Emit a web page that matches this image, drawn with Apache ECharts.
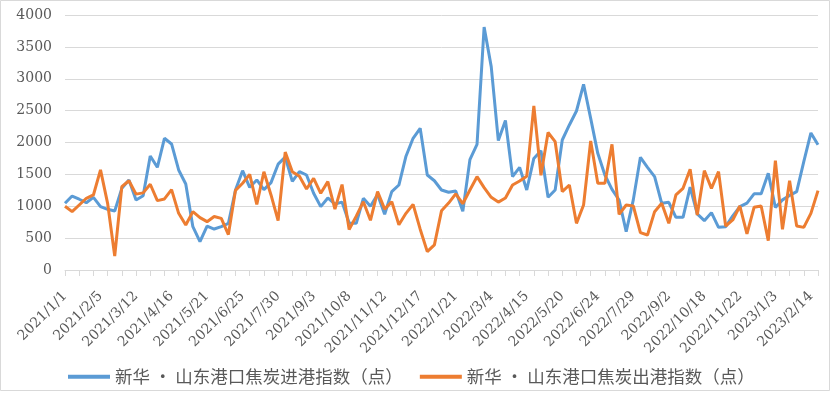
<!DOCTYPE html>
<html>
<head>
<meta charset="utf-8">
<script src="https://cdn.jsdelivr.net/npm/echarts@6/dist/echarts.min.js"></script>
<style>html,body{margin:0;padding:0;background:#fff;}#c{width:832px;height:393px;}</style>
</head>
<body>
<div id="c"></div>
<script>
var dates = [
'2021/1/1','2021/1/8','2021/1/15','2021/1/22','2021/1/29','2021/2/5','2021/2/12','2021/2/19','2021/2/26','2021/3/5',
'2021/3/12','2021/3/19','2021/3/26','2021/4/2','2021/4/9','2021/4/16','2021/4/23','2021/4/30','2021/5/7','2021/5/14',
'2021/5/21','2021/5/28','2021/6/4','2021/6/11','2021/6/18','2021/6/25','2021/7/2','2021/7/9','2021/7/16','2021/7/23',
'2021/7/30','2021/8/6','2021/8/13','2021/8/20','2021/8/27','2021/9/3','2021/9/10','2021/9/17','2021/9/24','2021/10/1',
'2021/10/8','2021/10/15','2021/10/22','2021/10/29','2021/11/5','2021/11/12','2021/11/19','2021/11/26','2021/12/3','2021/12/10',
'2021/12/17','2021/12/24','2021/12/31','2022/1/7','2022/1/14','2022/1/21','2022/1/28','2022/2/11','2022/2/18','2022/2/25',
'2022/3/4','2022/3/11','2022/3/18','2022/3/25','2022/4/1','2022/4/15','2022/4/22','2022/4/29','2022/5/6','2022/5/13',
'2022/5/20','2022/5/27','2022/6/3','2022/6/10','2022/6/17','2022/6/24','2022/7/1','2022/7/8','2022/7/15','2022/7/22',
'2022/7/29','2022/8/5','2022/8/12','2022/8/19','2022/8/26','2022/9/2','2022/9/9','2022/9/16','2022/9/23','2022/10/11',
'2022/10/18','2022/10/25','2022/11/1','2022/11/8','2022/11/15','2022/11/22','2022/11/29','2022/12/6','2022/12/13','2022/12/27',
'2023/1/3','2023/1/10','2023/1/17','2023/1/31','2023/2/7','2023/2/14','2023/2/21'
];
var inbound = [
1046,1160,1110,1056,1140,994,952,926,1281,1412,
1098,1166,1789,1611,2066,1977,1569,1349,680,445,
690,643,680,732,1255,1558,1297,1412,1260,1370,
1660,1770,1390,1542,1490,1203,994,1130,1035,1065,
737,732,1124,1000,1185,875,1229,1333,1785,2066,
2222,1490,1400,1255,1220,1240,920,1730,1970,3810,
3190,2030,2345,1464,1610,1255,1750,1870,1140,1255,
2039,2275,2494,2913,2379,1830,1490,1265,1098,601,
1100,1768,1611,1464,1046,1062,826,826,1300,880,
774,900,669,680,850,994,1050,1195,1195,1517,
980,1100,1170,1229,1700,2150,1965
];
var outbound = [
1000,915,1020,1125,1177,1570,1046,220,1307,1400,
1190,1210,1345,1088,1115,1260,889,706,915,821,
758,840,810,555,1250,1360,1500,1030,1542,1177,
775,1850,1542,1470,1270,1438,1203,1386,955,1340,
635,845,1072,780,1229,955,1072,710,889,1030,
640,288,395,928,1050,1195,1040,1255,1464,1292,
1140,1065,1130,1333,1396,1470,2573,1485,2157,2013,
1229,1333,732,1020,2024,1360,1360,1971,873,1020,
1004,586,549,915,1046,732,1177,1281,1579,863,
1558,1281,1543,690,785,1004,565,983,1004,460,
1715,638,1402,690,669,889,1245
];
var seriesNames = ['新华 • 山东港口焦炭进港指数（点）','新华 • 山东港口焦炭出港指数（点）'];

var chart = echarts.init(document.getElementById('c'), null, {renderer:'canvas'});
var serif = '"DejaVu Serif","Liberation Serif",serif';
chart.setOption({
  animation:false,
  backgroundColor:'#ffffff',
  graphic:[{type:'rect',shape:{x:0.5,y:0.5,width:829,height:390},style:{fill:'none',stroke:'#D9D9D9',lineWidth:1},silent:true}],
  grid:{left:65,right:14,top:15,bottom:123,containLabel:false},
  legend:{
    left:68, top:368, padding:0, itemWidth:42, itemHeight:4, itemGap:17, icon:'rect',
    textStyle:{fontFamily:'"Noto Sans CJK SC",sans-serif',fontSize:17.5,color:'#595959'},
    data:seriesNames
  },
  xAxis:{
    type:'category', data:dates, boundaryGap:false,
    axisLine:{lineStyle:{color:'#D9D9D9',width:1}},
    axisTick:{show:true,interval:1,length:6,lineStyle:{color:'#D9D9D9'}},
    axisLabel:{interval:4,rotate:45,margin:24,color:'#595959',fontFamily:serif,fontSize:14},
    splitLine:{show:false}
  },
  yAxis:{
    type:'value', min:0, max:4000, interval:500,
    axisLine:{show:false}, axisTick:{show:false},
    axisLabel:{color:'#595959',fontFamily:serif,fontSize:14,margin:13,formatter:function(v){return String(v);}},
    splitLine:{lineStyle:{color:'#D9D9D9',width:1}}
  },
  series:[
    {name:seriesNames[0],type:'line',data:inbound,symbol:'none',lineStyle:{width:3,color:'#5B9BD5'},itemStyle:{color:'#5B9BD5'}},
    {name:seriesNames[1],type:'line',data:outbound,symbol:'none',lineStyle:{width:3,color:'#ED7D31'},itemStyle:{color:'#ED7D31'}}
  ]
});
</script>
</body>
</html>
